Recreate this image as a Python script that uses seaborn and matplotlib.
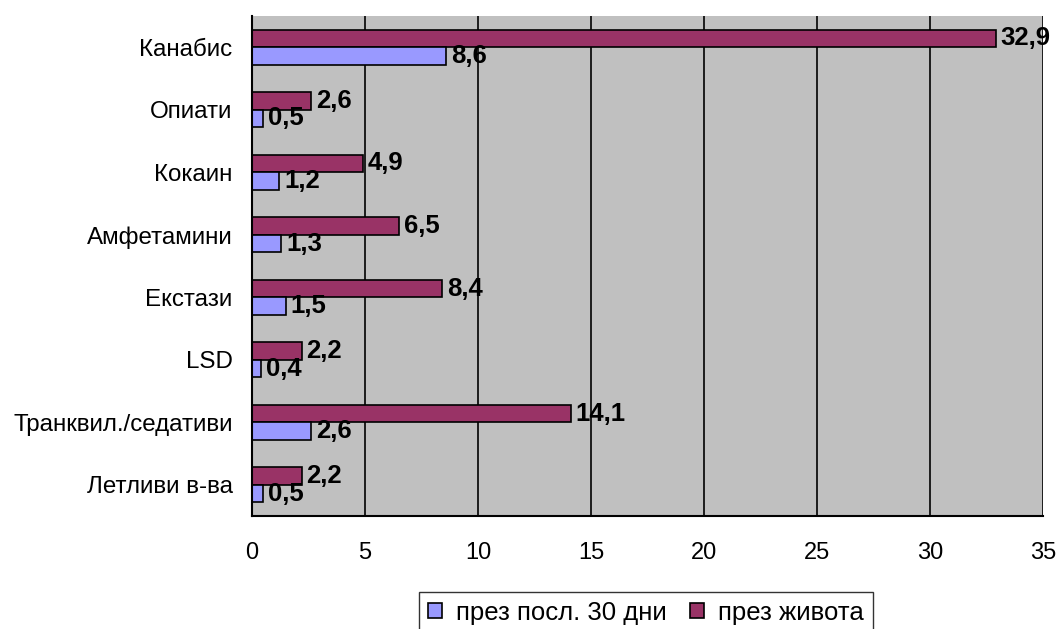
import matplotlib
matplotlib.use("Agg")
import matplotlib.pyplot as plt
from matplotlib.patches import Patch
import seaborn as sns
import pandas as pd

categories = ["Канабис", "Опиати", "Кокаин", "Амфетамини", "Екстази", "LSD",
              "Транквил./седативи", "Летливи в-ва"]
last_30_days = [8.6, 0.5, 1.2, 1.3, 1.5, 0.4, 2.6, 0.5]
lifetime = [32.9, 2.6, 4.9, 6.5, 8.4, 2.2, 14.1, 2.2]
series_names = ["през посл. 30 дни", "през живота"]
x_ticks = [0, 5, 10, 15, 20, 25, 30, 35]

colors = {series_names[0]: "#9999FF", series_names[1]: "#993366"}

df = pd.DataFrame({
    "category": categories * 2,
    "value": last_30_days + lifetime,
    "series": [series_names[0]] * len(categories) + [series_names[1]] * len(categories),
})

sns.set_style("white")
plt.rcParams["font.family"] = ["Liberation Sans", "DejaVu Sans"]
plt.rcParams["text.color"] = "black"
plt.rcParams["xtick.color"] = "black"
plt.rcParams["ytick.color"] = "black"

fig = plt.figure(figsize=(10.58, 6.29), dpi=100)
ax = fig.add_axes([0.2382, 0.1796, 0.7476, 0.795])

hue_order = [series_names[1], series_names[0]]
sns.barplot(data=df, y="category", x="value", hue="series", order=categories,
            hue_order=hue_order, palette=colors, orient="h", width=0.56,
            edgecolor="black", linewidth=1.2, saturation=1, legend=False, ax=ax)

ax.set_facecolor("#C0C0C0")
ax.set_xlim(0, 35)
ax.set_ylim(len(categories) - 0.5, -0.5)
ax.set_xticks(x_ticks)
ax.set_xticklabels([str(t) for t in x_ticks], fontsize=17, color="black")
ax.xaxis.grid(True, color="black", linewidth=1.2)
ax.set_axisbelow(True)
ax.set_xlabel("")
ax.set_ylabel("")

# Category labels centred, tick marks on category boundaries
ax.set_yticks(range(len(categories)))
ax.set_yticklabels(categories, fontsize=17.4, color="black")
ax.tick_params(axis="y", length=0, pad=14)
ax.set_yticks([i - 0.5 for i in range(len(categories) + 1)], minor=True)
ax.tick_params(axis="y", which="minor", length=6, width=1.2, color="black", direction="out")
ax.tick_params(axis="x", length=6, width=1.2, color="black", direction="out", pad=13)

for side in ["top", "right"]:
    ax.spines[side].set_visible(False)
for side in ["left", "bottom"]:
    ax.spines[side].set_color("black")
    ax.spines[side].set_linewidth(1.5)

# Value labels next to bar ends
for container in ax.containers:
    labels = [f"{v:.1f}".replace(".", ",") for v in container.datavalues]
    ax.bar_label(container, labels=labels, padding=3.5, fontsize=18.5, fontweight="bold",
                 color="black", clip_on=False)

handles = [Patch(facecolor=colors[s], edgecolor="black", linewidth=1.2) for s in series_names]
leg = fig.legend(handles, series_names, loc="upper center", bbox_to_anchor=(0.6106, 0.0595),
                 ncol=2, frameon=True, fancybox=False, edgecolor="black", fontsize=18.5,
                 handlelength=0.55, handleheight=0.55, handletextpad=0.55, columnspacing=0.9,
                 borderpad=0.35, borderaxespad=0)
for t in leg.get_texts():
    t.set_color("black")

fig.savefig("out.png", dpi=100, facecolor="white")
